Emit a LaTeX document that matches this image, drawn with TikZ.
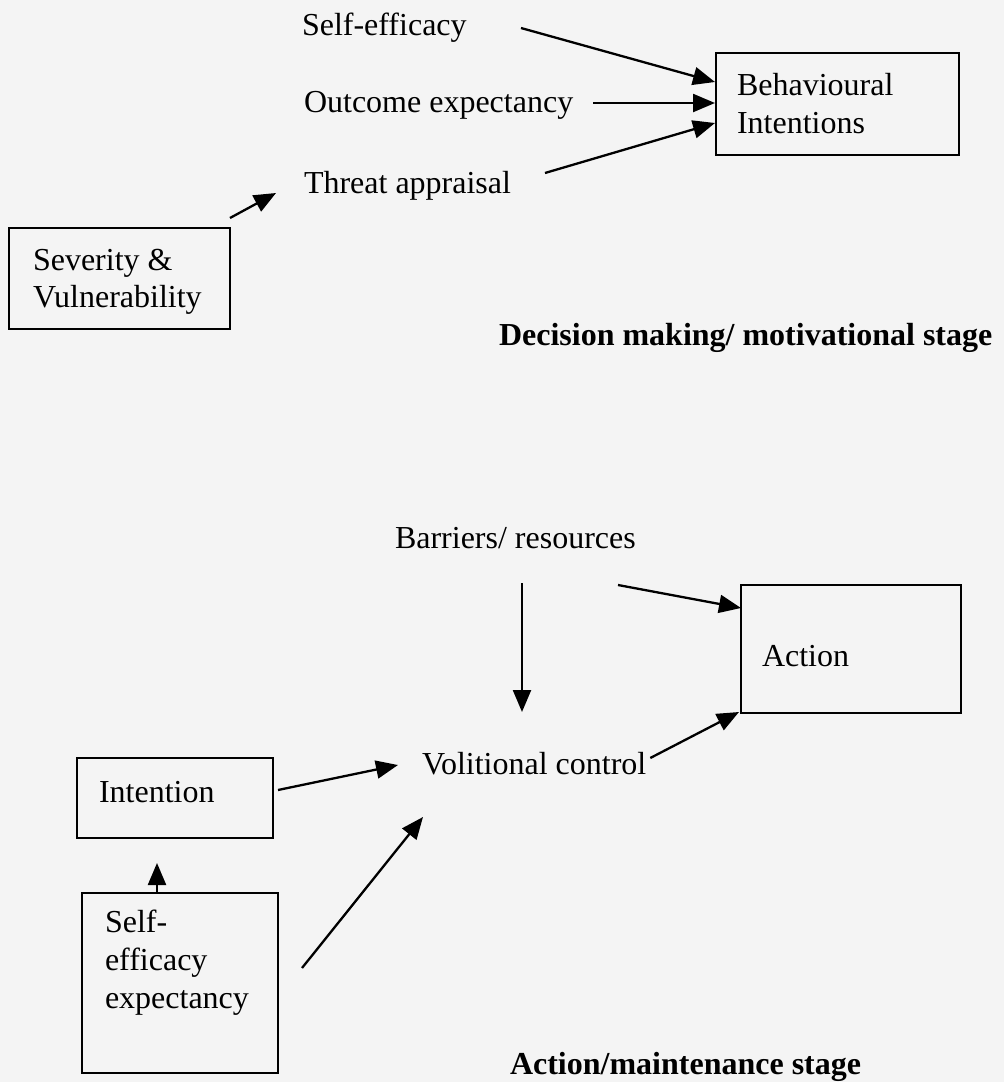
\documentclass[tikz,border=0pt]{standalone}
\usepackage{fontspec}
\setmainfont{Liberation Serif}
\usetikzlibrary{arrows.meta,calc}
\definecolor{paper}{RGB}{244,244,244}
\begin{document}
\begin{tikzpicture}[x=1pt,y=-1pt,
  every node/.style={inner sep=0pt,outer sep=0pt},
  box/.style={draw,line width=2.6pt,anchor=north west},
  txt/.style={anchor=base west,font=\fontsize{32}{38}\selectfont},
  stage/.style={anchor=base west,font=\fontsize{32}{38}\selectfont\bfseries},
  arr/.style={line width=2.3pt,-{Triangle[length=22pt,width=18pt]}}]
\fill[paper] (0,0) rectangle (1004,1082);
\useasboundingbox (0,0) rectangle (1004,1082);

% ---- decision making / motivational stage ----
\node[box,minimum width=221pt,minimum height=101pt] (sv) at (9,228) {};
\node[box,minimum width=243pt,minimum height=102pt] (bi) at (716,53) {};
\node[txt] (se)  at (302,35)  {Self-efficacy};
\node[txt] (oe)  at (304,112) {Outcome expectancy};
\node[txt] (ta)  at (304,193) {Threat appraisal};
\node[txt] (sv1) at (33,270)  {Severity \&};
\node[txt] (sv2) at (33,307)  {Vulnerability};
\node[txt] (bi1) at (737,95)  {Behavioural};
\node[txt] (bi2) at (737,133) {Intentions};
\node[stage] (dm) at (499,345) {Decision making/ motivational stage};

\draw[arr] ($(se.base west)+(219,-7)$) -- ($(bi.north west)+(-1,29)$);
\draw[arr] ($(oe.base west)+(289,-9)$) -- ($(bi.north west)+(-1,50)$);
\draw[arr] ($(ta.base west)+(241,-20)$) -- ($(bi.north west)+(-1,70)$);
\draw[arr] ($(sv.north west)+(221,-10)$) -- ($(ta.base west)+(-28,0)$);

% ---- action / maintenance stage ----
\node[box,minimum width=220pt,minimum height=128pt] (act) at (741,585) {};
\node[box,minimum width=196pt,minimum height=80pt]  (int) at (77,758) {};
\node[box,minimum width=196pt,minimum height=180pt] (see) at (82,893) {};
\node[txt] (br)   at (395,548) {Barriers/ resources};
\node[txt] (act1) at (762,666) {Action};
\node[txt] (vc)   at (422,774) {Volitional control};
\node[txt] (in1)  at (99,802)  {Intention};
\node[txt] (s1)   at (105,932) {Self-};
\node[txt] (s2)   at (105,970) {efficacy};
\node[txt] (s3)   at (105,1008) {expectancy};
\node[stage] (am) at (510,1074) {Action/maintenance stage};

\draw[arr] ($(br.base west)+(127,35)$) -- ($(vc.base west)+(100,-62)$);
\draw[arr] ($(br.base west)+(223,37)$) -- ($(act.north west)+(0,23)$);
\draw[arr] ($(vc.base east)+(4,-16)$) -- ($(act.south west)+(-2,-1)$);
\draw[arr] ($(int.north east)+(5,32)$) -- ($(vc.base west)+(-24,-9)$);
\draw[arr] ($(see.north west)+(75,0)$) -- ($(int.south west)+(80,25)$);
\draw[arr] ($(see.north east)+(24,75)$) -- ($(vc.base west)+(1,43)$);
\end{tikzpicture}
\end{document}
